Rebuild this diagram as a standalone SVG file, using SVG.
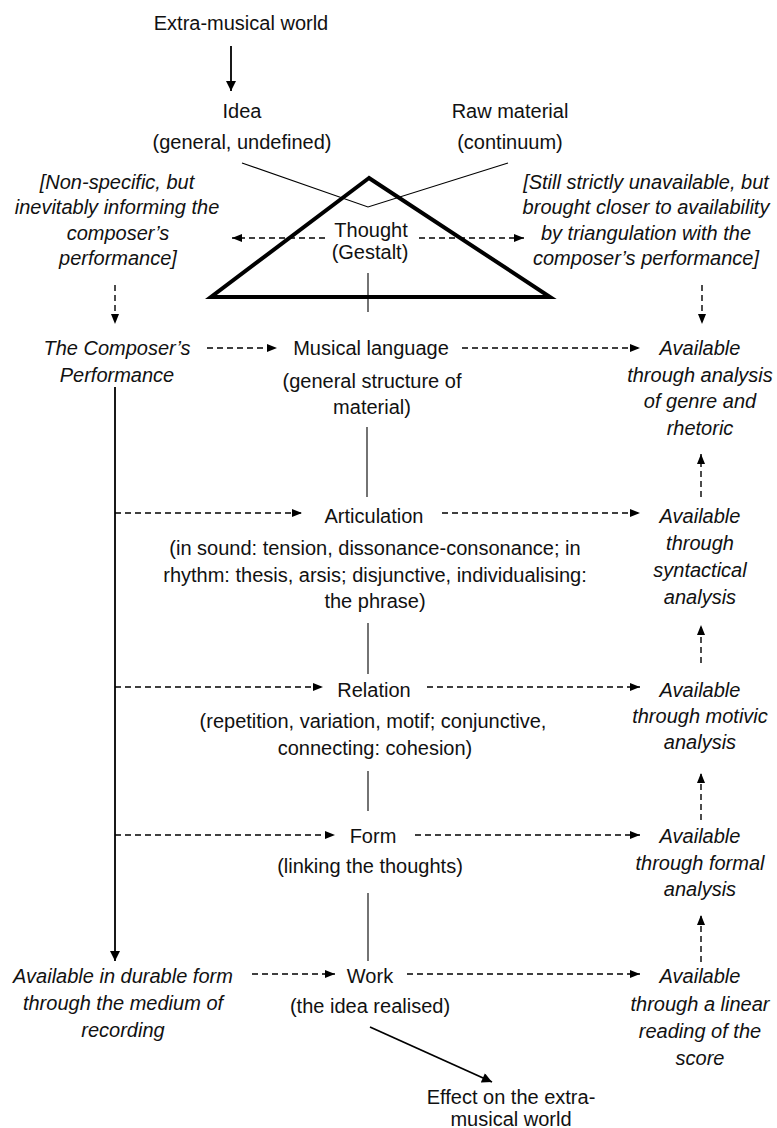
<svg xmlns="http://www.w3.org/2000/svg" width="777" height="1128" viewBox="0 0 777 1128">
<defs>
<marker id="ah" viewBox="0 0 10 8" refX="10" refY="4" markerWidth="10" markerHeight="8" markerUnits="userSpaceOnUse" orient="auto"><path d="M0,0 L10,4 L0,8 z" fill="#000"/></marker>
<marker id="ahs" viewBox="0 0 10 10" refX="10" refY="5" markerWidth="11" markerHeight="10" markerUnits="userSpaceOnUse" orient="auto"><path d="M0,0 L10,5 L0,10 z" fill="#000"/></marker>
<style>
text{font-family:"Liberation Sans",Arial,sans-serif;font-size:20px;fill:#111;text-anchor:middle}
.it{font-style:italic}
.d{stroke:#000;stroke-width:1.4;stroke-dasharray:6 4;fill:none;marker-end:url(#ah)}
.s{stroke:#000;stroke-width:1.8;fill:none;marker-end:url(#ahs)}
.t{stroke:#000;stroke-width:1.1;fill:none}
</style>
</defs>
<rect width="777" height="1128" fill="#fff"/>

<g id="connectors">
<line class="s" x1="231" y1="46" x2="231" y2="91"/>
<polyline class="t" points="242,163 368,207 508,163"/>
<line class="d" x1="325" y1="238" x2="232" y2="238"/>
<line class="d" x1="419" y1="238" x2="524" y2="238"/>
<line class="t" x1="368" y1="273" x2="368" y2="312"/>
<line class="d" x1="115" y1="285" x2="115" y2="324"/>
<line class="d" x1="702" y1="285" x2="702" y2="324"/>
<line class="d" x1="207" y1="348" x2="277" y2="348"/>
<line class="d" x1="462" y1="348" x2="640" y2="348"/>
<line class="s" x1="115" y1="387" x2="115" y2="961"/>
<line class="t" x1="367" y1="427" x2="367" y2="497"/>
<line class="d" x1="115" y1="513" x2="302" y2="513"/>
<line class="d" x1="442" y1="513" x2="640" y2="513"/>
<line class="d" x1="701" y1="497" x2="701" y2="454"/>
<line class="t" x1="368" y1="623" x2="368" y2="674"/>
<line class="d" x1="115" y1="687" x2="323" y2="687"/>
<line class="d" x1="427" y1="687" x2="640" y2="687"/>
<line class="d" x1="701" y1="663" x2="701" y2="625"/>
<line class="t" x1="368" y1="771" x2="368" y2="811"/>
<line class="d" x1="115" y1="835" x2="335" y2="835"/>
<line class="d" x1="415" y1="835" x2="640" y2="835"/>
<line class="d" x1="701" y1="820" x2="701" y2="773"/>
<line class="t" x1="368" y1="893" x2="368" y2="961"/>
<line class="d" x1="252" y1="974" x2="335" y2="974"/>
<line class="d" x1="407" y1="974" x2="640" y2="974"/>
<line class="d" x1="701" y1="962" x2="701" y2="915"/>
<line class="s" x1="370" y1="1027" x2="492" y2="1082"/>
</g>

<g id="triangle"><polygon points="369,178 211,297 550,297" fill="none" stroke="#000" stroke-width="4" stroke-linejoin="miter"/></g>

<g id="extra-musical"><text x="241" y="30">Extra-musical world</text></g>
<g id="idea"><text x="242" y="118">Idea</text><text x="242" y="149">(general, undefined)</text></g>
<g id="raw"><text x="510" y="118">Raw material</text><text x="510" y="149">(continuum)</text></g>
<g id="thought"><text x="371" y="237">Thought</text><text x="370" y="259">(Gestalt)</text></g>
<g id="nonspecific"><text class="it" x="117" y="189">[Non-specific, but</text><text class="it" x="117" y="214">inevitably informing the</text><text class="it" x="118" y="240">composer’s</text><text class="it" x="118" y="265">performance]</text></g>
<g id="still"><text class="it" x="646" y="189">[Still strictly unavailable, but</text><text class="it" x="646" y="214">brought closer to availability</text><text class="it" x="646" y="240">by triangulation with the</text><text class="it" x="646" y="265">composer’s performance]</text></g>
<g id="composer"><text class="it" x="117" y="355">The Composer’s</text><text class="it" x="117" y="382">Performance</text></g>
<g id="language"><text x="371" y="355">Musical language</text><text x="372" y="388">(general structure of</text><text x="372" y="414">material)</text></g>
<g id="avail1"><text class="it" x="700" y="355">Available</text><text class="it" x="700" y="382">through analysis</text><text class="it" x="700" y="408">of genre and</text><text class="it" x="700" y="435">rhetoric</text></g>
<g id="articulation"><text x="374" y="523">Articulation</text><text x="375" y="555">(in sound: tension, dissonance-consonance; in</text><text x="375" y="582">rhythm: thesis, arsis; disjunctive, individualising:</text><text x="375" y="608">the phrase)</text></g>
<g id="avail2"><text class="it" x="700" y="523">Available</text><text class="it" x="700" y="550">through</text><text class="it" x="700" y="577">syntactical</text><text class="it" x="700" y="604">analysis</text></g>
<g id="relation"><text x="374" y="697">Relation</text><text x="373" y="728">(repetition, variation, motif; conjunctive,</text><text x="375" y="755">connecting: cohesion)</text></g>
<g id="avail3"><text class="it" x="700" y="697">Available</text><text class="it" x="700" y="723">through motivic</text><text class="it" x="700" y="749">analysis</text></g>
<g id="form"><text x="373" y="843">Form</text><text x="370" y="873">(linking the thoughts)</text></g>
<g id="avail4"><text class="it" x="700" y="843">Available</text><text class="it" x="700" y="870">through formal</text><text class="it" x="700" y="896">analysis</text></g>
<g id="durable"><text class="it" x="123" y="983">Available in durable form</text><text class="it" x="123" y="1010">through the medium of</text><text class="it" x="123" y="1037">recording</text></g>
<g id="work"><text x="370" y="983">Work</text><text x="370" y="1013">(the idea realised)</text></g>
<g id="avail5"><text class="it" x="700" y="983">Available</text><text class="it" x="700" y="1011">through a linear</text><text class="it" x="700" y="1038">reading of the</text><text class="it" x="700" y="1065">score</text></g>
<g id="effect"><text x="511" y="1104">Effect on the extra-</text><text x="511" y="1126">musical world</text></g>
</svg>
